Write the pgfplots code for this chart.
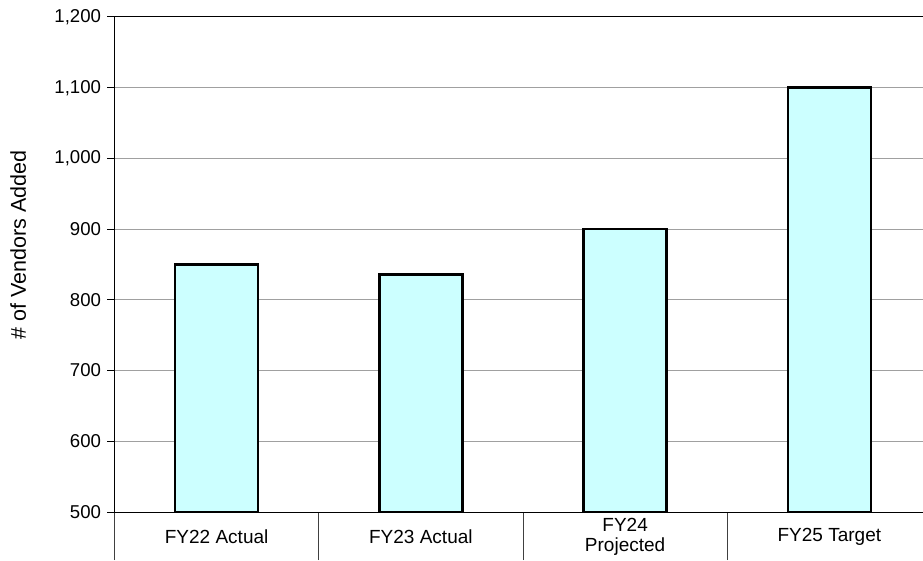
\documentclass[border=0pt]{standalone}
\usepackage{fontspec}
\setmainfont{Liberation Sans}
\usepackage{pgfplots}
\pgfplotsset{compat=1.18}
\definecolor{barfill}{HTML}{CCFFFF}
\definecolor{gridgray}{HTML}{A0A0A0}
\begin{document}
\begin{tikzpicture}
\useasboundingbox (0,0) rectangle (923pt,560pt);
\clip (0,0) rectangle (923pt,560pt);
\begin{axis}[
 at={(114.5pt,48pt)}, anchor=south west,
 scale only axis, width=817pt, height=495pt,
 xmin=-0.5, xmax=3.5, ymin=500, ymax=1200,
 ytick={500,600,...,1200},
 xtick={0,1,2,3},
 xticklabels={FY22 Actual, FY23 Actual, {FY24\\Projected}, FY25 Target},
 xtick pos=bottom,
 axis y line*=left, y axis line style={-, black, line width=1pt},
 x axis line style={black, line width=1pt},
 ymajorgrids, grid style={gridgray, line width=1pt},
 tick align=outside, major tick length=7pt,
 major x tick style={draw=none},
 minor xtick={-0.5,0.5,1.5,2.5},
 minor tick length=48pt,
 minor x tick style={draw=black!75, line width=1pt},
 ytick style={black, line width=1pt},
 /pgf/number format/assume math mode=true,
 yticklabel style={font=\fontsize{18.6}{20}\selectfont, /pgf/number format/1000 sep={,}, xshift=-3pt},
 xticklabel style={font=\fontsize{19}{19.5}\selectfont, align=center, anchor=center, yshift=-18pt},
 ylabel={\# of Vendors Added},
 every axis y label/.style={at={(axis description cs:-0.118,0.539)}, rotate=90, anchor=center, font=\fontsize{21.5}{24}\selectfont},
 ybar, bar width=0.406,
]
\addplot[fill=barfill, draw=black, line width=2.5pt] coordinates {(0,850) (1,836) (2,900) (3,1100)};
\end{axis}
\end{tikzpicture}
\end{document}
